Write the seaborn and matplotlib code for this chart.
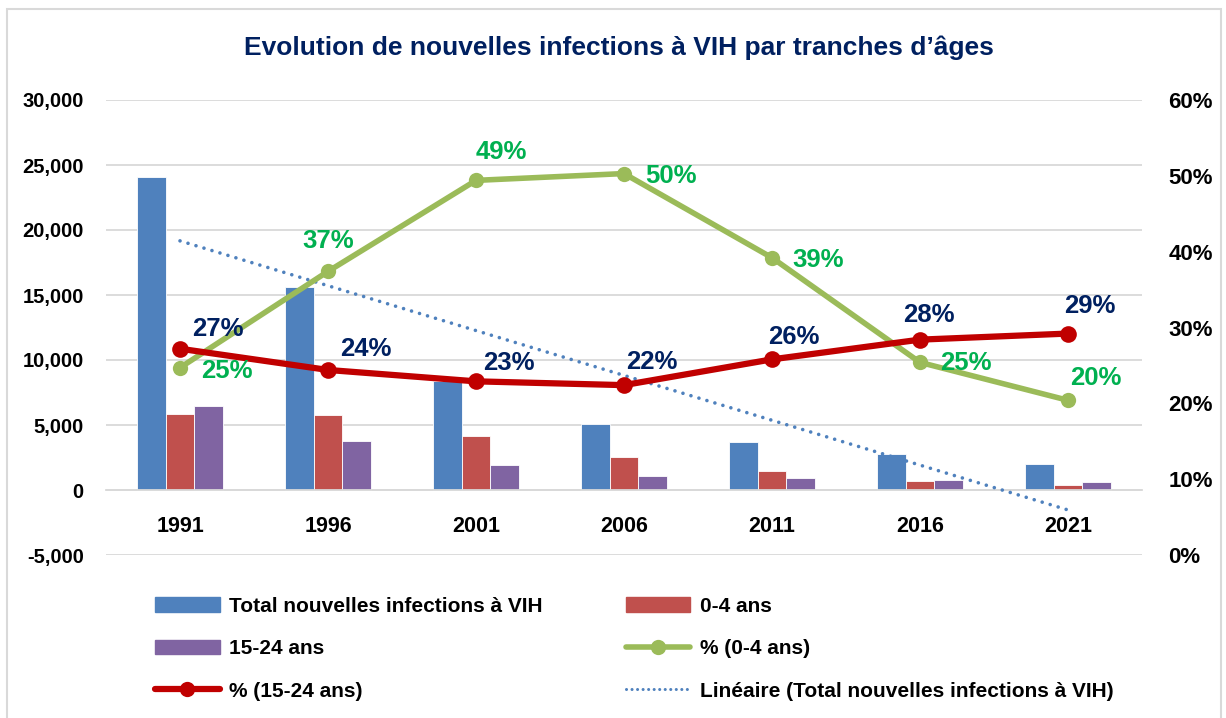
import numpy as np
import pandas as pd
import seaborn as sns
import matplotlib.pyplot as plt
from matplotlib.lines import Line2D
from matplotlib.patches import Patch, Rectangle
from matplotlib.ticker import FuncFormatter, MultipleLocator

# donnees
annees = [1991, 1996, 2001, 2006, 2011, 2016, 2021]
total = [24100, 15600, 8400, 5100, 3700, 2800, 2000]
ans_0_4 = [5850, 5800, 4150, 2550, 1450, 700, 400]
ans_15_24 = [6450, 3800, 1900, 1100, 950, 800, 600]
pct_0_4 = [24.7, 37.4, 49.4, 50.3, 39.2, 25.4, 20.4]
pct_15_24 = [27.2, 24.4, 22.9, 22.4, 25.8, 28.4, 29.2]
noms = ["Total nouvelles infections à VIH", "0-4 ans", "15-24 ans"]

# decalages des etiquettes (pixels)
dec_0_4 = [(47, -3), (0, 30), (25, 28), (47, -2), (46, -2), (46, -1), (28, 22)]
dec_15_24 = [(38, 20), (38, 21), (33, 18), (28, 23), (22, 22), (9, 25), (22, 28)]

bleu, rouge, violet = "#4F81BD", "#C0504D", "#8064A2"
vert, rouge_ligne = "#9BBB59", "#C00000"
marine, vert_txt = "#002060", "#00B050"
grille = "#D9D9D9"

sns.set_style("white")
plt.rcParams["font.family"] = ["Liberation Sans", "DejaVu Sans"]
plt.rcParams["font.weight"] = "bold"
plt.rcParams["text.color"] = "black"
plt.rcParams["xtick.color"] = "black"
plt.rcParams["ytick.color"] = "black"

df = pd.DataFrame({
    "annee": annees * 3,
    "valeur": total + ans_0_4 + ans_15_24,
    "serie": [noms[0]] * 7 + [noms[1]] * 7 + [noms[2]] * 7,
})

fig = plt.figure(figsize=(12.26, 7.18), dpi=100)
ax = fig.add_axes([106 / 1226, 1 - 555 / 718, (1142 - 106) / 1226, (555 - 100) / 718])

sns.barplot(data=df, x="annee", y="valeur", hue="serie", hue_order=noms,
            palette=[bleu, rouge, violet], width=0.58, gap=0, saturation=1,
            edgecolor="white", linewidth=0.6, legend=False, ax=ax)

idx = np.arange(len(annees))
# tendance lineaire du total
sns.regplot(x=idx, y=np.array(total), scatter=False, ci=None, truncate=True, ax=ax,
            line_kws=dict(color=bleu, lw=2.6, linestyle=(0, (0.01, 2.3)),
                          dash_capstyle="round", zorder=4))

ax.set_xlim(-0.5, 6.5)
ax.set_ylim(-5000, 30000)
ax.yaxis.set_major_locator(MultipleLocator(5000))
ax.yaxis.set_major_formatter(FuncFormatter(lambda v, p: f"{v:,.0f}"))
ax.grid(axis="y", color=grille, lw=1.3)
ax.set_axisbelow(True)
for s in ["left", "right", "top"]:
    ax.spines[s].set_visible(False)
ax.spines["bottom"].set_position(("data", 0))
ax.spines["bottom"].set_color(grille)
ax.spines["bottom"].set_linewidth(1.3)
ax.tick_params(axis="x", length=0, pad=19, labelsize=15.5, labelcolor="black")
ax.tick_params(axis="y", length=0, pad=16, labelsize=14.5, labelcolor="black")
ax.set_xlabel("")
ax.set_ylabel("")

ax2 = ax.twinx()
sns.lineplot(x=idx, y=pct_0_4, ax=ax2, color=vert, lw=4, marker="o",
             markersize=11, markeredgewidth=0)
sns.lineplot(x=idx, y=pct_15_24, ax=ax2, color=rouge_ligne, lw=4.5, marker="o",
             markersize=12, markeredgewidth=0)
ax2.set_ylim(0, 60)
ax2.yaxis.set_major_locator(MultipleLocator(10))
ax2.yaxis.set_major_formatter(FuncFormatter(lambda v, p: f"{v:.0f}%"))
ax2.tick_params(axis="y", length=0, pad=19, labelsize=16, labelcolor="black")
for s in ax2.spines.values():
    s.set_visible(False)

for i, v in enumerate(pct_0_4):
    ax2.annotate(f"{v:.0f}%", (i, v), xytext=dec_0_4[i], textcoords="offset pixels",
                 ha="center", va="center", fontsize=18.5, fontweight="bold", color=vert_txt)
for i, v in enumerate(pct_15_24):
    ax2.annotate(f"{v:.0f}%", (i, v), xytext=dec_15_24[i], textcoords="offset pixels",
                 ha="center", va="center", fontsize=18.5, fontweight="bold", color=marine)

fig.text(0.505, 1 - 48 / 718, "Evolution de nouvelles infections à VIH par tranches d’âges",
         ha="center", va="center", fontsize=19, fontweight="bold", color=marine)

# legende (ordre par colonnes)
poignees = [
    Patch(color=bleu), Patch(color=violet),
    Line2D([], [], color=rouge_ligne, lw=4.5, marker="o", markersize=11, markeredgewidth=0),
    Patch(color=rouge),
    Line2D([], [], color=vert, lw=4, marker="o", markersize=11, markeredgewidth=0),
    Line2D([], [], color=bleu, lw=2.2, linestyle=(0, (0.01, 1.8)), dash_capstyle="round"),
]
etiquettes = [noms[0], noms[2], "% (15-24 ans)", noms[1], "% (0-4 ans)",
              "Linéaire (Total nouvelles infections à VIH)"]
leg = fig.legend(poignees, etiquettes, ncol=2, loc="upper left",
                 bbox_to_anchor=(155 / 1226, 1 - 597 / 718), frameon=False,
                 fontsize=15, handlelength=3.1, handletextpad=0.45, columnspacing=4.0,
                 labelspacing=1.12, borderpad=0, borderaxespad=0, labelcolor="black")

fig.patches.append(Rectangle((7 / 1226, -0.05), (1221 - 7) / 1226, 1.05 - 9 / 718,
                             transform=fig.transFigure, fill=False,
                             edgecolor=grille, lw=1.5))

fig.savefig("out.png", dpi=100)
